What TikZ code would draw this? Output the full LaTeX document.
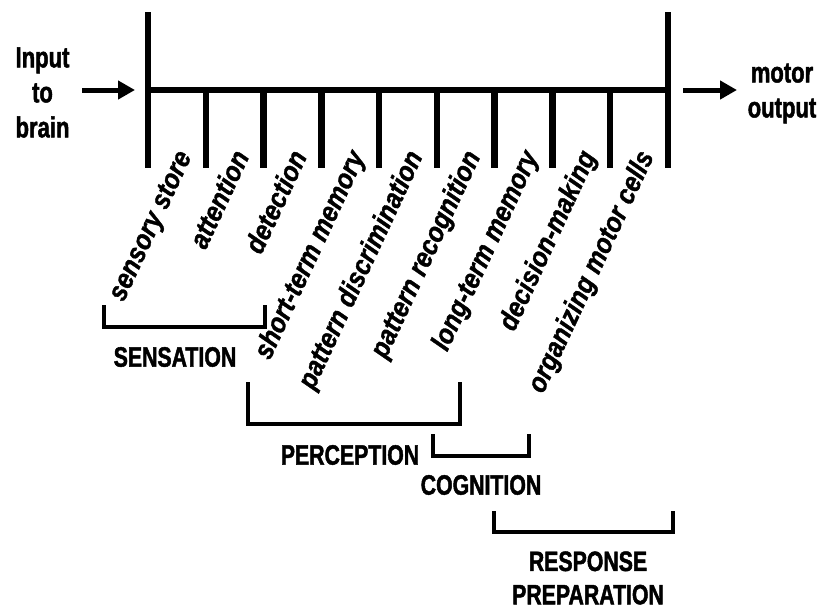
\documentclass[tikz,border=0pt]{standalone}
\usepackage{fontspec}
\usetikzlibrary{arrows.meta}
\newfontfamily\headfont[FakeStretch=0.76,FakeBold=1.6]{Liberation Sans}
\newfontfamily\stagefont[FakeStretch=0.88,FakeBold=1.2]{Liberation Sans}
\tikzset{
  bar/.style={line width=6.5pt, line cap=butt},
  brace/.style={line width=4.5pt, line join=miter},
  flow/.style={line width=5pt, -{Triangle[length=17pt,width=18pt]}},
  heading/.style={inner sep=0pt, align=center,
    font=\headfont\bfseries\fontsize{29}{35}\selectfont},
  phase/.style={inner sep=0pt, align=center,
    font=\headfont\bfseries\fontsize{28}{33.3}\selectfont},
  stage/.style={inner sep=0pt, anchor=base east, rotate=65,
    font=\stagefont\bfseries\itshape\fontsize{28}{30}\selectfont},
}
\begin{document}
\begin{tikzpicture}[x=1pt, y=-1pt]
\useasboundingbox[fill=white] (0,0) rectangle (822,606);

% main processing bar with its end posts and tick marks
\def\tk{57.78}
\coordinate (b0) at (148,90);
\coordinate (b9) at (668,90);
\draw[bar] (b0) -- (b9);
\draw[bar] (148,12) -- (148,168);
\draw[bar] (668,12) -- (668,168);
\foreach \i in {1,...,8} {
  \draw[bar] (148+\i*\tk,90) -- (148+\i*\tk,168);
}

% input and output
\node[heading] (input) at (42.5,92.5) {Input\\to\\brain};
\node[heading] (output) at (782,93.5) {motor\\output};
\coordinate (inS) at (82,90);
\coordinate (inE) at (135,90);
\coordinate (outS) at (683,90);
\coordinate (outE) at (737,90);
\draw[flow] (inS) -- (inE);
\draw[flow] (outS) -- (outE);

% stage labels hanging below the ticks
\foreach \i/\name/\txt in {
  0/s0/sensory store,
  1/s1/attention,
  2/s2/detection,
  3/s3/short-term memory,
  4/s4/pattern discrimination,
  5/s5/pattern recognition,
  6/s6/long-term memory,
  7/s7/decision-making,
  8/s8/organizing motor cells} {
  \node[stage] (\name) at (148+\i*\tk+44,156) {\txt};
}

% grouping brackets
\draw[brace] (104,305) -- (104,327) -- (265,327) -- (265,305);
\node[phase] (sensation) at (175,357) {SENSATION};

\draw[brace] (248,382) -- (248,424) -- (460,424) -- (460,382);
\node[phase] (perception) at (350,455) {PERCEPTION};

\draw[brace] (433,434) -- (433,456) -- (529,456) -- (529,434);
\node[phase] (cognition) at (481,485) {COGNITION};

\draw[brace] (494,511) -- (494,532) -- (673,532) -- (673,511);
\node[phase] (response) at (588,578) {RESPONSE\\PREPARATION};
\end{tikzpicture}
\end{document}
